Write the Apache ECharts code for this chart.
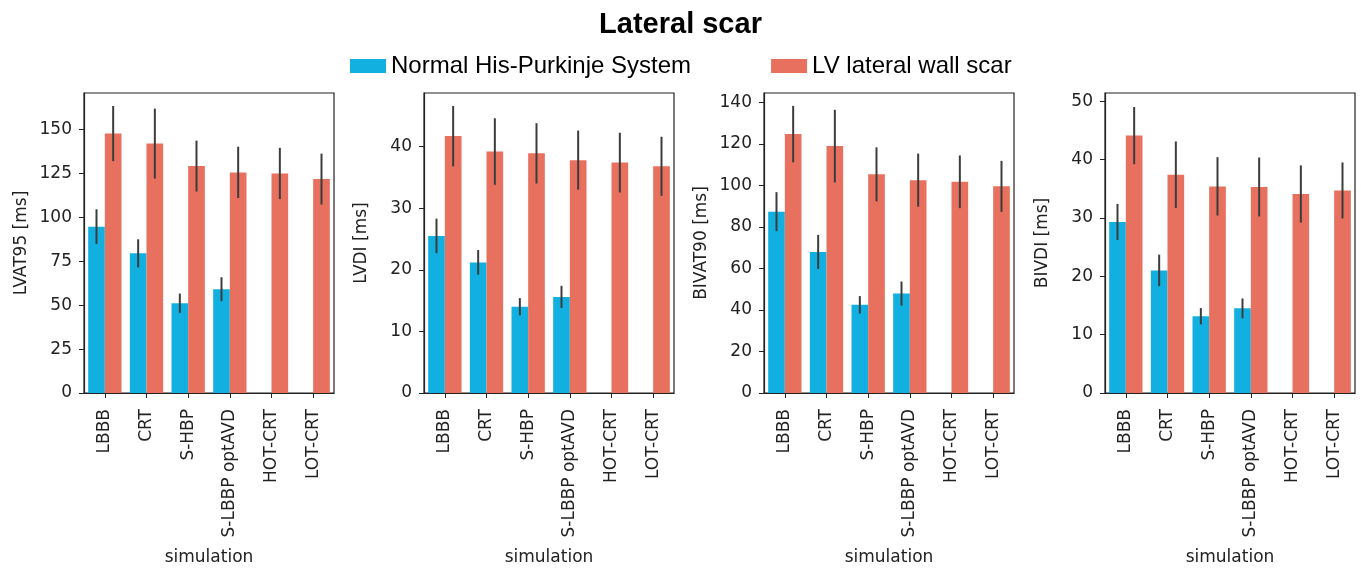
<!DOCTYPE html>
<html>
<head>
<meta charset="utf-8">
<script src="https://cdn.jsdelivr.net/npm/echarts@6/dist/echarts.min.js"></script>
<style>
html,body{margin:0;padding:0;background:#fff;}
#chart{width:1361px;height:568px;}
</style>
</head>
<body>
<div id="chart"></div>
<script>
// ---- data ----
const categories = ['LBBB', 'CRT', 'S-HBP', 'S-LBBP optAVD', 'HOT-CRT', 'LOT-CRT'];
const seriesNames = ['Normal His-Purkinje System', 'LV lateral wall scar'];
const metricNames = ['LVAT95 [ms]', 'LVDI [ms]', 'BIVAT90 [ms]', 'BIVDI [ms]'];

const lvat95Normal    = [94.7, 79.5, 51.1, 59.1, null, null];
const lvat95NormalErr = [9.9, 8.0, 5.5, 6.8, null, null];
const lvat95Scar      = [147.7, 142.0, 129.2, 125.6, 125.0, 121.8];
const lvat95ScarErr   = [15.7, 19.9, 14.5, 14.6, 14.6, 14.5];

const lvdiNormal    = [25.5, 21.2, 14.0, 15.6, null, null];
const lvdiNormalErr = [2.8, 2.0, 1.4, 1.8, null, null];
const lvdiScar      = [41.7, 39.2, 38.9, 37.8, 37.4, 36.8];
const lvdiScarErr   = [4.9, 5.4, 4.9, 4.8, 4.85, 4.8];

const bivat90Normal    = [87.4, 68.0, 42.5, 47.9, null, null];
const bivat90NormalErr = [9.4, 8.2, 4.2, 5.8, null, null];
const bivat90Scar      = [124.8, 119.0, 105.4, 102.6, 101.8, 99.6];
const bivat90ScarErr   = [13.6, 17.5, 13.0, 12.8, 12.7, 12.3];

const bivdiNormal    = [29.3, 21.0, 13.15, 14.5, null, null];
const bivdiNormalErr = [3.1, 2.7, 1.4, 1.7, null, null];
const bivdiScar      = [44.1, 37.4, 35.4, 35.3, 34.1, 34.7];
const bivdiScarErr   = [4.9, 5.7, 5.0, 5.05, 4.9, 4.8];

const yTicks = [
  [0, 25, 50, 75, 100, 125, 150],
  [0, 10, 20, 30, 40],
  [0, 20, 40, 60, 80, 100, 120, 140],
  [0, 10, 20, 30, 40, 50]
];
const yMax = [170.8, 48.7, 144.6, 51.4];

// ---- layout / style ----
const normalData = [lvat95Normal, lvdiNormal, bivat90Normal, bivdiNormal];
const normalErr  = [lvat95NormalErr, lvdiNormalErr, bivat90NormalErr, bivdiNormalErr];
const scarData   = [lvat95Scar, lvdiScar, bivat90Scar, bivdiScar];
const scarErr    = [lvat95ScarErr, lvdiScarErr, bivat90ScarErr, bivdiScarErr];

const BLUE = '#12b0e0';
const RED = '#e8705f';
const INK = '#222';
const AXFONT = 'DejaVu Sans';
const gridLefts = [84, 424, 764, 1105];

const grids = [], xAxes = [], yAxes = [], series = [];

function errSeries(i, vals, errs, offset) {
  const data = [];
  vals.forEach((v, k) => { if (v != null) data.push([k, v, errs[k]]); });
  return {
    type: 'custom',
    xAxisIndex: i, yAxisIndex: i,
    z: 10,
    silent: true,
    data: data,
    renderItem: function (params, api) {
      const idx = api.value(0), v = api.value(1), e = api.value(2);
      const band = api.size([1, 0])[0];
      const top = api.coord([idx, v + e]);
      const bot = api.coord([idx, v - e]);
      const x = top[0] + offset * band;
      return {
        type: 'line',
        shape: { x1: x, y1: top[1], x2: x, y2: bot[1] },
        style: { stroke: '#3c3c3c', lineWidth: 2 }
      };
    }
  };
}

for (let i = 0; i < 4; i++) {
  grids.push({
    left: gridLefts[i], top: 93, width: 250, height: 300,
    containLabel: false, outerBoundsMode: 'none',
    show: true, borderColor: INK, borderWidth: 1.2, backgroundColor: 'transparent'
  });
  xAxes.push({
    gridIndex: i, type: 'category', data: categories,
    name: 'simulation', nameLocation: 'middle', nameGap: 156,
    nameTextStyle: { fontSize: 17, color: INK, fontFamily: AXFONT },
    axisLine: { show: true, lineStyle: { color: INK, width: 1.2 } },
    axisTick: { show: true, alignWithLabel: true, length: 5, lineStyle: { color: INK } },
    axisLabel: { rotate: 90, fontSize: 17, color: INK, fontFamily: AXFONT, margin: 16, interval: 0 },
    splitLine: { show: false }
  });
  yAxes.push({
    gridIndex: i, type: 'value', min: 0, max: yMax[i],
    name: metricNames[i], nameLocation: 'middle', nameGap: 54,
    nameTextStyle: { fontSize: 17, color: INK, fontFamily: AXFONT },
    axisLine: { show: true, lineStyle: { color: INK, width: 1.2 } },
    axisTick: { show: true, length: 5, lineStyle: { color: INK }, customValues: yTicks[i] },
    axisLabel: { fontSize: 17, color: INK, fontFamily: AXFONT, margin: 12, customValues: yTicks[i] },
    splitLine: { show: false }
  });
  series.push({
    name: seriesNames[0], type: 'bar', xAxisIndex: i, yAxisIndex: i,
    data: normalData[i], itemStyle: { color: BLUE },
    barGap: '0%', barCategoryGap: '20%'
  });
  series.push({
    name: seriesNames[1], type: 'bar', xAxisIndex: i, yAxisIndex: i,
    data: scarData[i], itemStyle: { color: RED },
    barGap: '0%', barCategoryGap: '20%'
  });
  series.push(errSeries(i, normalData[i], normalErr[i], -0.2));
  series.push(errSeries(i, scarData[i], scarErr[i], 0.2));
}

const chart = echarts.init(document.getElementById('chart'), null, { renderer: 'canvas' });
chart.setOption({
  backgroundColor: '#fff',
  animation: false,
  title: {
    text: 'Lateral scar', left: 'center', top: 5,
    textStyle: { fontSize: 29, fontWeight: 'bold', color: '#000', fontFamily: 'Liberation Sans' }
  },
  legend: {
    data: seriesNames, left: 345, top: 49,
    icon: 'rect', itemWidth: 36, itemHeight: 14, itemGap: 80,
    textStyle: { fontSize: 24, color: '#000', fontFamily: 'Liberation Sans' }
  },
  grid: grids, xAxis: xAxes, yAxis: yAxes, series: series
});
</script>
</body>
</html>
